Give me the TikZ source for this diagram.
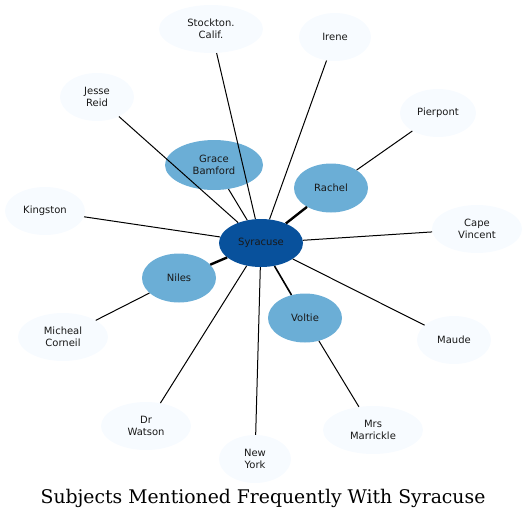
\documentclass[tikz,border=0pt]{standalone}
\usepackage{fontspec}
\newfontfamily\labelfont{DejaVu Sans}
\newfontfamily\titlefont{DejaVu Serif}
\usetikzlibrary{shapes.geometric}
\definecolor{hubblue}{HTML}{08519C}
\definecolor{midblue}{HTML}{6BAED6}
\definecolor{paleblue}{HTML}{F7FBFF}
\tikzset{
  subj/.style={ellipse,inner sep=0pt,minimum height=48pt,align=center,
    font=\labelfont\fontsize{10}{12}\selectfont,text=black!90},
  hub/.style={subj,fill=hubblue,minimum width=84pt},
  mid/.style={subj,fill=midblue,minimum height=49pt},
  leaf/.style={subj,fill=paleblue},
  link/.style={line width=1pt},
  strong/.style={line width=2.4pt},
  medium/.style={line width=1.6pt}
}

\begin{document}
\begin{tikzpicture}[x=1pt,y=-1pt]
\useasboundingbox (0,0) rectangle (527,520);
%centre
\node[hub] (syracuse) at (261,243) {Syracuse};
%second ring
\node[mid,minimum width=98pt,minimum height=50pt] (grace) at (214,165) {Grace\\Bamford};
\node[mid,minimum width=74pt] (rachel) at (331,188) {Rachel};
\node[mid,minimum width=74pt] (niles) at (179,278) {Niles};
\node[mid,minimum width=74pt] (voltie) at (305,318) {Voltie};
%outer ring
\node[leaf,minimum width=104pt] (stockton) at (211,29) {Stockton.\\Calif.};
\node[leaf,minimum width=72pt] (irene) at (335,37) {Irene};
\node[leaf,minimum width=74pt] (jesse) at (97,97) {Jesse\\Reid};
\node[leaf,minimum width=76pt] (pierpont) at (438,113) {Pierpont};
\node[leaf,minimum width=80pt] (kingston) at (45,211) {Kingston};
\node[leaf,minimum width=90pt] (cape) at (477,229) {Cape\\Vincent};
\node[leaf,minimum width=90pt] (micheal) at (63,337) {Micheal\\Corneil};
\node[leaf,minimum width=74pt] (maude) at (454,340) {Maude};
\node[leaf,minimum width=90pt] (watson) at (146,426) {Dr\\Watson};
\node[leaf,minimum width=72pt] (newyork) at (255,459) {New\\York};
\node[leaf,minimum width=100pt] (marrickle) at (373,430) {Mrs\\Marrickle};

%links
\foreach \n in {grace,stockton,irene,jesse,kingston,cape,maude,watson,newyork}
  \draw[link] (syracuse) -- (\n);
\draw[strong] (syracuse) -- (rachel);
\draw[strong] (syracuse) -- (niles);
\draw[medium] (syracuse) -- (voltie);
\draw[link] (rachel) -- (pierpont);
\draw[link] (niles) -- (micheal);
\draw[link] (voltie) -- (marrickle);

%title
\node (title) at (263,498) {\titlefont\fontsize{18.8}{22}\selectfont Subjects Mentioned Frequently With Syracuse};
\end{tikzpicture}
\end{document}
